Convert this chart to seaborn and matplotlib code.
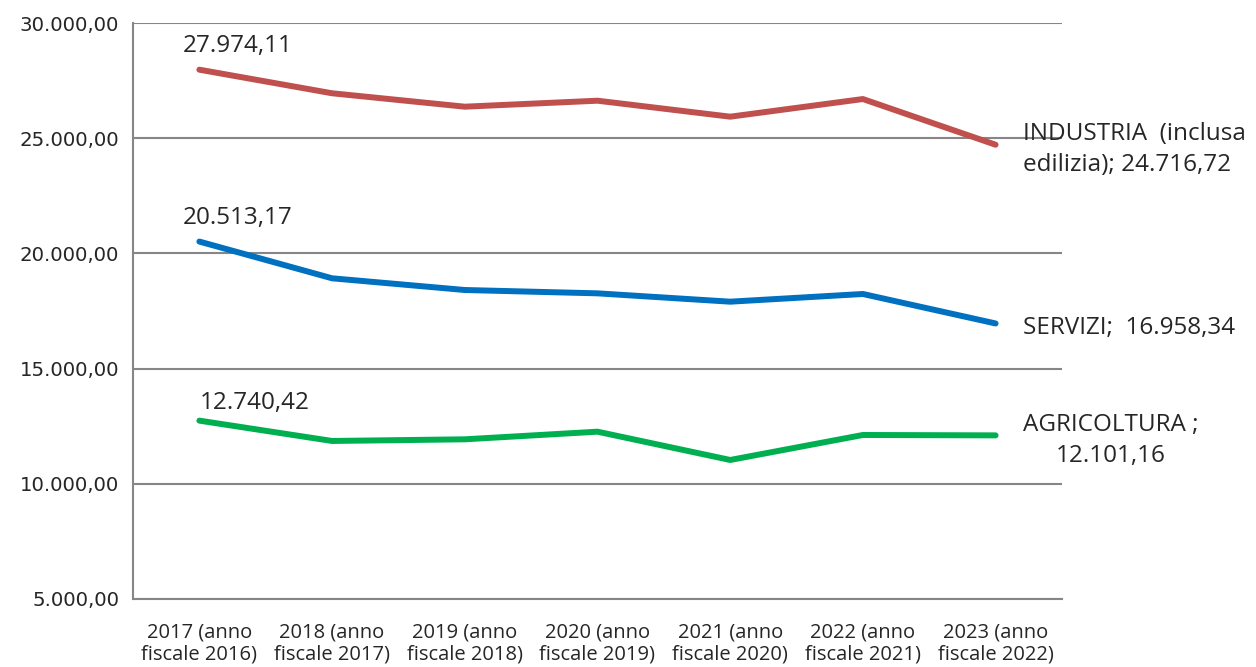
import numpy as np
import pandas as pd
import seaborn as sns
import matplotlib.pyplot as plt
from matplotlib.ticker import FuncFormatter, FixedLocator

sns.set_style("white")
plt.rcParams['font.family'] = ['Open Sans', 'DejaVu Sans']

anni = ['2017 (anno\nfiscale 2016)', '2018 (anno\nfiscale 2017)', '2019 (anno\nfiscale 2018)',
        '2020 (anno\nfiscale 2019)', '2021 (anno\nfiscale 2020)', '2022 (anno\nfiscale 2021)',
        '2023 (anno\nfiscale 2022)']
industria = [27974.11, 26950, 26368, 26628, 25934, 26700, 24716.72]
servizi = [20513.17, 18919, 18411, 18266, 17904, 18238, 16958.34]
agricoltura = [12740.42, 11858, 11930, 12261, 11033, 12118, 12101.16]

serie = ['INDUSTRIA', 'SERVIZI', 'AGRICOLTURA']
colori = ['#C0504D', '#0070C0', '#00B050']
etichette_fine = ['INDUSTRIA  (inclusa\nedilizia); 24.716,72', 'SERVIZI;  16.958,34',
                  'AGRICOLTURA ;\n12.101,16']

df = pd.DataFrame({
    'pos': np.tile(np.arange(len(anni)), 3),
    'valore': industria + servizi + agricoltura,
    'serie': np.repeat(serie, len(anni)),
})

def it_fmt(v, decimals=2):
    s = f"{v:,.{decimals}f}"
    return s.replace(',', 'X').replace('.', ',').replace('X', '.')

fig = plt.figure(figsize=(12.56, 6.67), dpi=100)
ax = fig.add_axes([0.1059, 0.102, 0.7396, 0.8635])

sns.lineplot(data=df, x='pos', y='valore', hue='serie', palette=dict(zip(serie, colori)),
             linewidth=4.3, legend=False, ax=ax, solid_capstyle='round', solid_joinstyle='round')

ax.set_xlim(-0.5, len(anni) - 0.5)
ax.set_ylim(5000, 30000)
ax.set_yticks(np.arange(5000, 30001, 5000))
ax.yaxis.set_major_formatter(FuncFormatter(lambda v, p: it_fmt(v)))
ax.grid(axis='y', color='#868686', linewidth=1.5)
ax.set_axisbelow(True)

ax.set_xticks(range(len(anni)))
ax.set_xticklabels(anni, fontsize=14.5, linespacing=1.1)
ax.xaxis.set_minor_locator(FixedLocator(np.arange(-0.5, len(anni), 1.0)))
ax.tick_params(axis='x', which='major', length=0, pad=17)
ax.tick_params(axis='x', which='minor', length=6, width=1.5, color='#868686', direction='out')
ax.tick_params(axis='y', length=5, width=1.5, color='#868686', direction='out', labelsize=14.2, pad=5)
for lbl in ax.get_yticklabels():
    lbl.set_fontfamily('DejaVu Sans')

ax.set_xlabel('')
ax.set_ylabel('')
for s in ['top', 'right']:
    ax.spines[s].set_visible(False)
for s in ['left', 'bottom']:
    ax.spines[s].set_color('#868686')
    ax.spines[s].set_linewidth(1.5)

# first-point labels (offsets in points)
offsets_start = [(-12, 17), (-12, 17), (0, 12.5)]
for vals, (dx, dy) in zip([industria, servizi, agricoltura], offsets_start):
    ax.annotate(it_fmt(vals[0]), (0, vals[0]), xytext=(dx, dy), textcoords='offset points',
                ha='left', va='center', fontsize=17.5)

# end labels
last = len(anni) - 1
for vals, txt in zip([industria, servizi, agricoltura], etichette_fine):
    ax.annotate(txt, (last, vals[-1]), xytext=(20, -3.5), textcoords='offset points',
                ha='left', va='center', fontsize=17.5,
                multialignment='center' if 'AGRI' in txt else 'left',
                linespacing=1.4, annotation_clip=False)

fig.savefig('out.png', dpi=100)
